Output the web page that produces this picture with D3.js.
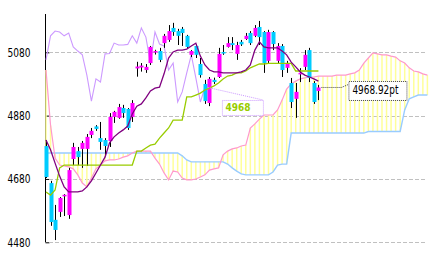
<!DOCTYPE html>
<html>
<head>
<meta charset="utf-8">
<script src="https://cdn.jsdelivr.net/npm/d3@7"></script>
<style>
  body { margin: 0; background: #fff; }
  svg { display: block; }
</style>
</head>
<body>
<div id="chart"></div>
<script>
// ============================================================
//  DATA — daily candles + ichimoku lines
// ============================================================

const OPEN = [4784,4667,4551,4576,4625,4566,4743,4768,4775,4775,
              4819,4846,4809,4803,4800,4876,4873,4904,4901,4876,
              5029,5032,5024,5046,5081,5084,5109,5119,5157,5147,
              5154,5132,5072,5100,5043,4980,4920,4993,5002,5081,
              5097,5109,5075,5113,5122,5141,5132,5160,5144,5053,
              5144,5053,5100,5031,4983,4933,5012,5034,5087,4983,
              4958];
const HIGH = [4803,4674,4598,4623,4632,4715,4794,4781,4800,4822,
              4841,4850,4860,4809,4888,4895,4917,4914,4904,4929,
              5050,5046,5043,5100,5088,5094,5138,5166,5173,5154,
              5160,5135,5087,5106,5062,4993,5002,5000,5094,5103,
              5128,5128,5113,5119,5141,5147,5166,5179,5147,5151,
              5147,5109,5106,5053,4999,4983,5030,5087,5094,4989,
              4977];
const LOW = [4683,4532,4487,4560,4563,4554,4724,4724,4715,4721,
             4809,4832,4772,4756,4781,4857,4870,4873,4835,4860,
             5003,5019,5015,5040,5073,5049,5094,5113,5132,5103,
             5100,5094,5065,5062,5000,4917,4910,4980,4999,5072,
             5095,5087,5056,5100,5119,5103,5128,5103,5015,5046,
             5087,5046,5002,5015,4904,4873,4986,5024,4986,4917,
             4929];
const CLOSE = [4686,4544,4519,4620,4630,4708,4781,4749,4794,4813,
               4832,4838,4797,4784,4876,4892,4907,4888,4841,4920,
               5035,5038,5034,5097,5084,5056,5132,5147,5144,5132,
               5141,5097,5084,5072,5008,4926,4996,4986,5075,5076,
               5109,5103,5103,5105,5132,5109,5157,5128,5046,5144,
               5106,5100,5024,5046,4923,4955,5015,5072,4999,4923,
               4968.92];

// Conversion line (tenkan) and base line (kijun)
const TENKAN = [4803,4772,4730,4689,4655,4639,4639,4639,4642,4655,
                4674,4699,4724,4749,4794,4813,4825,4835,4847,4885,
                4910,4917,4936,4958,4967,4970,5012,5062,5081,5087,
                5087,5090,5100,5109,5068,5040,5024,5018,5018,5015,
                5015,5015,5015,5018,5024,5040,5087,5113,5097,5094,
                5094,5094,5084,5072,5049,5034,5018,5008,5002,4996,
                4989];
const KIJUN = [4639,4629,4645,4715,4724,4724,4724,4724,4724,4724,
               4724,4724,4724,4724,4724,4724,4724,4724,4724,4724,
               4768,4768,4778,4787,4790,4809,4825,4841,4866,4866,
               4866,4939,4939,4945,4951,4961,4967,4974,4983,4996,
               5005,5008,5015,5015,5021,5031,5037,5043,5043,5045,
               5045,5045,5045,5045,5045,5021,5021,5021,5021,5021,
               5021];

// Leading spans, already shifted forward (run past the last candle)
const SENKOU_A = [5024,4850,4746,4724,4721,4718,4712,4693,4667,4655,
                  4683,4712,4724,4737,4740,4740,4743,4749,4753,4762,
                  4768,4768,4768,4768,4746,4727,4699,4677,4705,4702,
                  4683,4677,4677,4680,4686,4693,4708,4712,4715,4756,
                  4768,4775,4778,4784,4787,4841,4854,4869,4882,4882,
                  4882,4898,4929,4964,4980,4989,4996,4999,5002,5002,
                  5005,5005,5005,5005,5008,5008,5008,5012,5015,5024,
                  5046,5062,5078,5075,5072,5072,5068,5065,5053,5046,
                  5031,5021,5018,5012,5008];
const SENKOU_B = [4762,4762,4762,4762,4762,4762,4762,4762,4762,4762,
                  4762,4762,4762,4762,4762,4762,4762,4762,4762,4762,
                  4762,4762,4762,4762,4762,4762,4762,4762,4762,4762,
                  4753,4740,4734,4734,4734,4734,4734,4734,4734,4734,
                  4727,4715,4705,4696,4693,4693,4693,4693,4693,4693,
                  4702,4724,4727,4727,4825,4825,4825,4825,4825,4825,
                  4825,4825,4825,4825,4825,4825,4825,4825,4825,4825,
                  4825,4830,4830,4830,4830,4830,4830,4830,4830,4898,
                  4933,4939,4945,4945,4945];

const Y_TICKS = [4480, 4680, 4880, 5080];
const CHIKOU_SHIFT = 25;   // lagging span = close drawn 25 bars back

// ============================================================
//  CONFIG
// ============================================================

const CONFIG = {
    WIDTH: 433,
    HEIGHT: 256,
    X_RANGE: [46, 427.4],
    Y_RANGE: [242.3, 52.3],
    AXIS_X: 45.5,
    AXIS_TOP: 14,
    GRID_X: [49, 427],

    UP_COLOR: "#ff00ff",
    DOWN_COLOR: "#00ccff",
    BODY_W: 4,

    TENKAN_COLOR: "#800080",
    KIJUN_COLOR: "#99cc00",
    CHIKOU_COLOR: "#cc99ff",
    SPAN_A_COLOR: "#ff99cc",
    SPAN_B_COLOR: "#99ccff",
    CLOUD_COLOR: "#ffff99",
    GRID_COLOR: "#c0c0c0",

    AXIS_FONT: "'Liberation Sans Narrow', 'DejaVu Sans Condensed', 'Liberation Sans', sans-serif",
};

const svg = d3.select("#chart").append("svg")
    .attr("width", CONFIG.WIDTH)
    .attr("height", CONFIG.HEIGHT);

// --- Scales ---
const x = d3.scaleLinear()
    .domain([0, SENKOU_A.length - 1])
    .range(CONFIG.X_RANGE);

const y = d3.scaleLinear()
    .domain([Y_TICKS[0], Y_TICKS[Y_TICKS.length - 1]])
    .range(CONFIG.Y_RANGE);

const line = d3.line().x((d, i) => x(i)).y(d => y(d));

// --- Axis (left, ticks pointing inward) ---
const axis = svg.append("g")
    .attr("transform", `translate(${CONFIG.AXIS_X},0)`)
    .call(d3.axisLeft(y)
        .tickValues(Y_TICKS)
        .tickSizeInner(-4)
        .tickSizeOuter(0)
        .tickPadding(15)
        .tickFormat(d3.format("d")));

axis.select(".domain").remove();
axis.selectAll(".tick line").attr("stroke", "#000");
axis.selectAll(".tick text")
    .attr("fill", "#000")
    .attr("font-family", CONFIG.AXIS_FONT)
    .attr("font-size", 12)
    .attr("textLength", 23)
    .attr("lengthAdjust", "spacingAndGlyphs");

axis.append("line")
    .attr("y1", CONFIG.AXIS_TOP)
    .attr("y2", y(Y_TICKS[0]))
    .attr("stroke", "#000");

// --- Gridlines ---
svg.append("g")
    .selectAll("line")
    .data(Y_TICKS)
    .join("line")
    .attr("x1", CONFIG.GRID_X[0])
    .attr("x2", CONFIG.GRID_X[1])
    .attr("y1", d => Math.round(y(d)) + 0.5)
    .attr("y2", d => Math.round(y(d)) + 0.5)
    .attr("stroke", CONFIG.GRID_COLOR)
    .attr("stroke-dasharray", "4,2");

// --- Cloud: vertical hatching between the two spans ---
const cloud = SENKOU_A.map((a, i) => ({ i, a, b: SENKOU_B[i] }));
svg.append("g")
    .selectAll("line")
    .data(cloud)
    .join("line")
    .attr("x1", d => x(d.i))
    .attr("x2", d => x(d.i))
    .attr("y1", d => y(d.a))
    .attr("y2", d => y(d.b))
    .attr("stroke", CONFIG.CLOUD_COLOR)
    .attr("stroke-width", 1.5);

// --- Leading spans ---
svg.append("path").datum(SENKOU_B)
    .attr("d", line).attr("fill", "none")
    .attr("stroke", CONFIG.SPAN_B_COLOR).attr("stroke-width", 1.4);

svg.append("path").datum(SENKOU_A)
    .attr("d", line).attr("fill", "none")
    .attr("stroke", CONFIG.SPAN_A_COLOR).attr("stroke-width", 1.2);

// --- Lagging span (close shifted back) ---
const CHIKOU = CLOSE.slice(CHIKOU_SHIFT);
svg.append("path").datum(CHIKOU)
    .attr("d", line).attr("fill", "none")
    .attr("stroke", CONFIG.CHIKOU_COLOR).attr("stroke-width", 1.1);

// --- Candles ---
const candles = CLOSE.map((c, i) => ({ i, o: OPEN[i], h: HIGH[i], l: LOW[i], c }));
const cg = svg.append("g");

cg.selectAll("line")
    .data(candles)
    .join("line")
    .attr("x1", d => Math.round(x(d.i)) + 0.5)
    .attr("x2", d => Math.round(x(d.i)) + 0.5)
    .attr("y1", d => y(d.h))
    .attr("y2", d => y(d.l))
    .attr("stroke", "#000");

cg.selectAll("rect")
    .data(candles)
    .join("rect")
    .attr("x", d => Math.round(x(d.i)) + 0.5 - CONFIG.BODY_W / 2)
    .attr("width", CONFIG.BODY_W)
    .attr("y", d => y(Math.max(d.o, d.c)))
    .attr("height", d => Math.max(1.5, Math.abs(y(d.o) - y(d.c))))
    .attr("fill", d => d.c >= d.o ? CONFIG.UP_COLOR : CONFIG.DOWN_COLOR);

// --- Base + conversion lines ---
svg.append("path").datum(KIJUN)
    .attr("d", line).attr("fill", "none")
    .attr("stroke", CONFIG.KIJUN_COLOR).attr("stroke-width", 1.3);

svg.append("path").datum(TENKAN)
    .attr("d", line).attr("fill", "none")
    .attr("stroke", CONFIG.TENKAN_COLOR).attr("stroke-width", 1.3);

// --- Label: lagging span value ---
const lagEnd = { x: x(CHIKOU.length - 1), y: y(CHIKOU[CHIKOU.length - 1]) };
const lagBox = { x: lagEnd.x + 17, y: lagEnd.y + 12.5, w: 41, h: 15 };

svg.append("line")
    .attr("x1", lagEnd.x + 3).attr("y1", lagEnd.y)
    .attr("x2", lagBox.x + lagBox.w).attr("y2", lagBox.y)
    .attr("stroke", CONFIG.CHIKOU_COLOR)
    .attr("stroke-dasharray", "1,1");

svg.append("rect")
    .attr("x", lagBox.x + 0.5).attr("y", lagBox.y + 0.5)
    .attr("width", lagBox.w).attr("height", lagBox.h)
    .attr("fill", "#fff")
    .attr("stroke", CONFIG.CHIKOU_COLOR)
    .attr("stroke-dasharray", "1,1");

svg.append("text")
    .attr("x", lagBox.x + 3.5).attr("y", lagBox.y + 11.5)
    .attr("font-family", "'DejaVu Sans', Verdana, sans-serif")
    .attr("font-weight", "bold")
    .attr("font-size", 10)
    .attr("fill", CONFIG.KIJUN_COLOR)
    .attr("textLength", 25)
    .attr("lengthAdjust", "spacingAndGlyphs")
    .text(Math.floor(CHIKOU[CHIKOU.length - 1]));

// --- Label: last price ---
const last = CLOSE.length - 1;
const lastPt = { x: x(last) + 3, y: y(CLOSE[last]) };
const priceBox = { x: lastPt.x + 27, y: lastPt.y - 6.5, w: 58, h: 19 };

svg.append("polyline")
    .attr("points", [
        [lastPt.x, lastPt.y],
        [lastPt.x + 20, lastPt.y],
        [priceBox.x, lastPt.y - 3]
    ].map(p => p.join(",")).join(" "))
    .attr("fill", "none")
    .attr("stroke", "#444")
    .attr("stroke-dasharray", "1,1");

svg.append("rect")
    .attr("x", priceBox.x + 0.5).attr("y", priceBox.y + 0.5)
    .attr("width", priceBox.w).attr("height", priceBox.h)
    .attr("fill", "#fff")
    .attr("stroke", "#444")
    .attr("stroke-dasharray", "1,1");

svg.append("text")
    .attr("x", priceBox.x + 4).attr("y", priceBox.y + 13)
    .attr("font-family", CONFIG.AXIS_FONT)
    .attr("font-size", 12)
    .attr("fill", "#000")
    .attr("textLength", 46)
    .attr("lengthAdjust", "spacingAndGlyphs")
    .text(CLOSE[last].toFixed(2) + "pt");
</script>
</body>
</html>
